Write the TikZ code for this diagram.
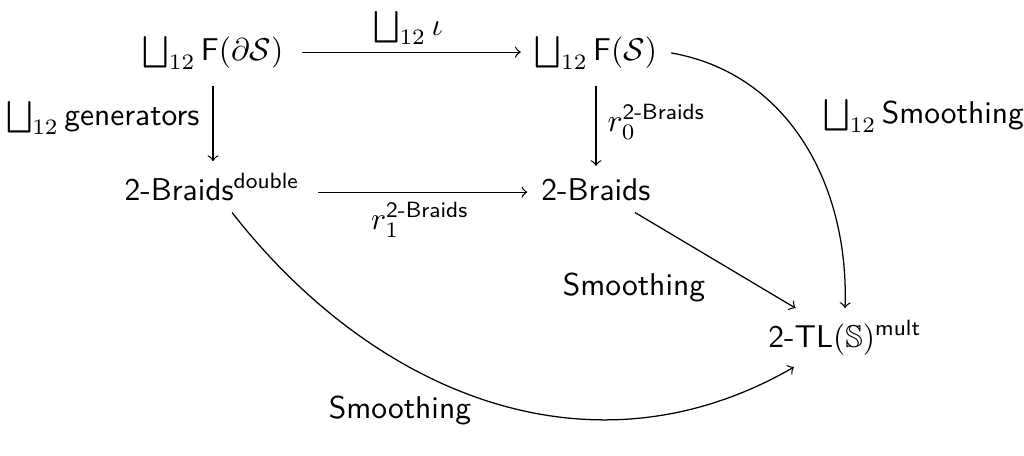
\documentclass[tikz,border=0pt]{standalone}
\usepackage{amsmath,amssymb}
\begin{document}
\begin{tikzpicture}[x=0.3175pt,y=0.3175pt,
  obj/.style={inner xsep=1ex, inner ysep=0.85ex, anchor=base},
  lab/.style={inner sep=0pt},
  arr/.style={->, line width=0.4pt}]
\useasboundingbox (0,0) rectangle (1024,-455);
% objects
\node[obj] (A) at (213,-60) {$\bigsqcup_{12}\mathsf{F}(\partial\mathcal{S})$};
\node[obj] (B) at (596,-60) {$\bigsqcup_{12}\mathsf{F}(\mathcal{S})$};
\node[obj] (C) at (212,-200) {\textsf{2-Braids}$^{\textsf{double}}$};
\node[obj] (D) at (596,-200) {\textsf{2-Braids}};
\node[obj] (E) at (845,-347) {\textsf{2-TL}$(\mathbb{S})^{\textsf{mult}}$};
% arrows
\draw[arr, shorten <=1.5pt] ([yshift=2.5pt]A.base east) -- ([yshift=2.5pt]B.base west);
\draw[arr, shorten <=1.5pt] ([yshift=2.5pt]C.base east) -- ([yshift=2.5pt]D.base west);
\draw[arr, shorten <=1.5pt] (A.south) -- (A.south |- C.north);
\draw[arr, shorten <=1.5pt] (B.south) -- (B.south |- D.north);
\draw[arr] (D) -- (E);
\draw[arr] (B.east) to[out=-10,in=88] (E.north);
\draw[arr] (C) to[out=-52,in=-150,looseness=1.02] (E);
% labels
\node[lab] (lI) at (408,-28) {$\bigsqcup_{12}\iota$};
\node[lab, anchor=east] (lG) at (200,-118) {$\bigsqcup_{12}\textsf{generators}$};
\node[lab, anchor=west] (lR0) at (607,-122) {$r_0^{\textsf{2-Braids}}$};
\node[lab] (lR1) at (420,-220) {$r_1^{\textsf{2-Braids}}$};
\node[lab] (lS1) at (634,-287) {\textsf{Smoothing}};
\node[lab, anchor=west] (lS2) at (823,-116) {$\bigsqcup_{12}\textsf{Smoothing}$};
\node[lab] (lS3) at (400,-410) {\textsf{Smoothing}};
\end{tikzpicture}
\end{document}
